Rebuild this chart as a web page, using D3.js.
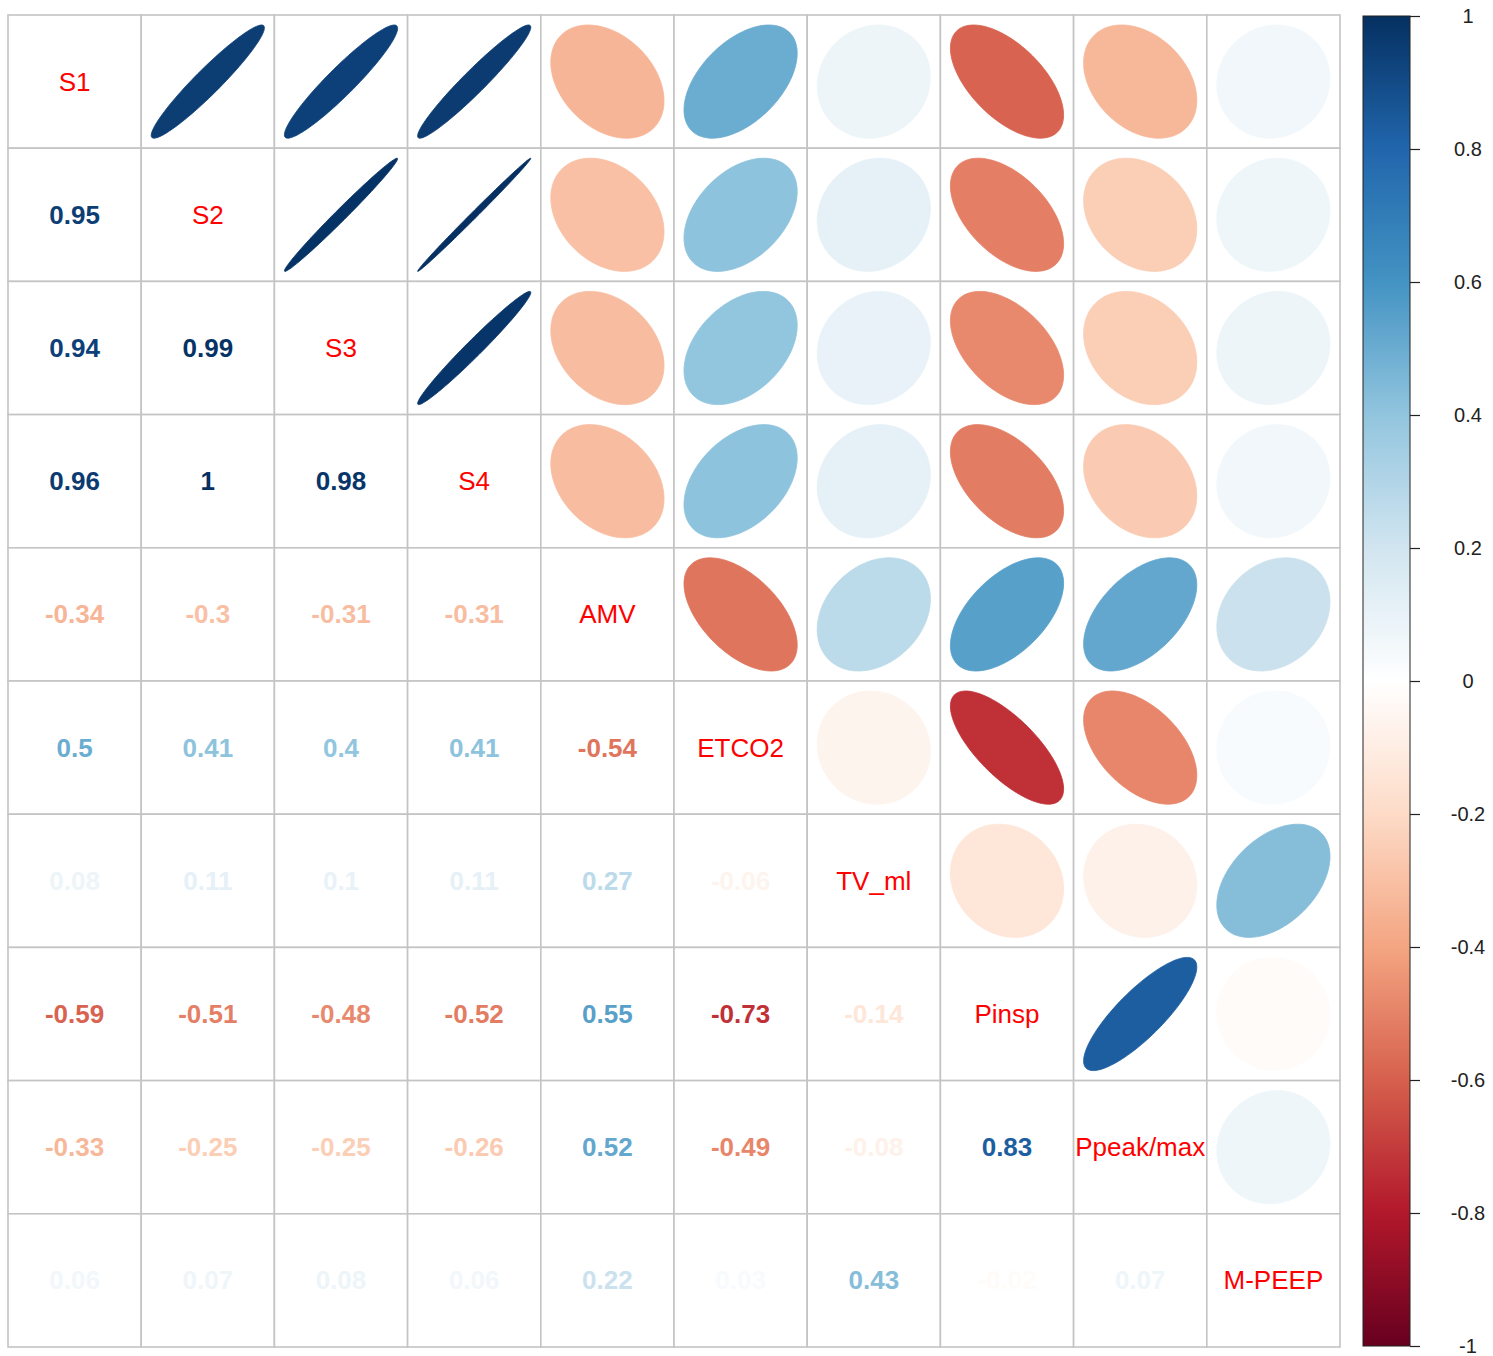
<!DOCTYPE html>
<html>
<head>
<meta charset="utf-8">
<script src="https://cdn.jsdelivr.net/npm/d3@7"></script>
<style>
  html, body { margin: 0; padding: 0; background: #fff; }
  svg { display: block; }
</style>
</head>
<body>
<div id="chart"></div>
<script>
// corrplot-style mixed matrix: numbers below the diagonal, ellipses above

const labels = ['S1', 'S2', 'S3', 'S4', 'AMV', 'ETCO2', 'TV_ml', 'Pinsp', 'Ppeak/max', 'M-PEEP'];

// lower triangle, one row per variable (values left of the diagonal)
const rowS1    = [];
const rowS2    = [0.95];
const rowS3    = [0.94, 0.99];
const rowS4    = [0.96, 1, 0.98];
const rowAMV   = [-0.34, -0.3, -0.31, -0.31];
const rowETCO2 = [0.5, 0.41, 0.4, 0.41, -0.54];
const rowTV    = [0.08, 0.11, 0.1, 0.11, 0.27, -0.06];
const rowPinsp = [-0.59, -0.51, -0.48, -0.52, 0.55, -0.73, -0.14];
const rowPpeak = [-0.33, -0.25, -0.25, -0.26, 0.52, -0.49, -0.08, 0.83];
const rowMPEEP = [0.06, 0.07, 0.08, 0.06, 0.22, 0.03, 0.43, -0.02, 0.07];
const lowerRows = [rowS1, rowS2, rowS3, rowS4, rowAMV, rowETCO2, rowTV, rowPinsp, rowPpeak, rowMPEEP];

const legendTicks = [-1, -0.8, -0.6, -0.4, -0.2, 0, 0.2, 0.4, 0.6, 0.8, 1];
const palette = ['#67001F', '#B2182B', '#D6604D', '#F4A582', '#FDDBC7', '#FFFFFF',
                 '#D1E5F0', '#92C5DE', '#4393C3', '#2166AC', '#053061'];

const W = 1493, H = 1356;
const gridLeft = 8, gridRight = 1340, gridTop = 15, gridBottom = 1347;

const svg = d3.select('#chart').append('svg')
  .attr('width', W).attr('height', H);

const x = d3.scaleBand().domain(labels).range([gridLeft, gridRight]);
const y = d3.scaleBand().domain(labels).range([gridTop, gridBottom]);
const color = d3.scaleLinear().domain(legendTicks).range(palette).clamp(true);
const bw = x.bandwidth();

// build full symmetric cell list
const cells = [];
labels.forEach((rl, i) => {
  labels.forEach((cl, j) => {
    let v = null;
    if (j < i) v = lowerRows[i][j];
    else if (j > i) v = lowerRows[j][i];
    cells.push({ row: rl, col: cl, i, j, v });
  });
});

// grid
svg.append('g').selectAll('rect')
  .data(cells)
  .join('rect')
  .attr('x', d => x(d.col))
  .attr('y', d => y(d.row))
  .attr('width', bw)
  .attr('height', bw)
  .attr('fill', '#fff')
  .attr('stroke', '#c4c4c4')
  .attr('stroke-width', 1.6);

// ellipse path as corrplot draws it (0.85 of cell, y flipped for svg)
// |r| kept just under 1 so a rounded "1" still shows as a thin sliver
function ellipsePath(r) {
  const rr = Math.max(-0.997, Math.min(0.997, r));
  const a = Math.acos(rr) / 2;
  const pts = d3.range(0, 100).map(n => {
    const k = (n / 99) * 2 * Math.PI;
    return [0.85 * Math.cos(k + a) / 2 * bw, -0.85 * Math.cos(k - a) / 2 * bw];
  });
  return d3.line()(pts) + 'Z';
}

const upper = cells.filter(d => d.j > d.i);
svg.append('g').selectAll('path')
  .data(upper)
  .join('path')
  .attr('transform', d => `translate(${x(d.col) + bw / 2},${y(d.row) + bw / 2})`)
  .attr('d', d => ellipsePath(d.v))
  .attr('fill', d => color(d.v))
  .attr('stroke', d => color(d.v))
  .attr('stroke-width', 0.8);

// numbers
const lower = cells.filter(d => d.j < d.i);
svg.append('g').selectAll('text')
  .data(lower)
  .join('text')
  .attr('x', d => x(d.col) + bw / 2)
  .attr('y', d => y(d.row) + bw / 2)
  .attr('text-anchor', 'middle')
  .attr('dominant-baseline', 'central')
  .attr('font-family', 'Liberation Sans, Arial, sans-serif')
  .attr('font-weight', 'bold')
  .attr('font-size', 26)
  .attr('fill', d => color(d.v))
  .text(d => String(d.v));

// diagonal labels
svg.append('g').selectAll('text')
  .data(labels)
  .join('text')
  .attr('x', d => x(d) + bw / 2)
  .attr('y', d => y(d) + bw / 2)
  .attr('text-anchor', 'middle')
  .attr('dominant-baseline', 'central')
  .attr('font-family', 'Liberation Sans, Arial, sans-serif')
  .attr('font-size', 26)
  .attr('fill', '#ff0000')
  .text(d => d);

// colour legend
const barX = 1363, barW = 47;
const ly = d3.scaleLinear().domain([-1, 1]).range([gridBottom - 1, gridTop + 1]);

const defs = svg.append('defs');
const grad = defs.append('linearGradient')
  .attr('id', 'cbar')
  .attr('x1', 0).attr('y1', 1).attr('x2', 0).attr('y2', 0);
grad.selectAll('stop')
  .data(legendTicks)
  .join('stop')
  .attr('offset', d => (d + 1) / 2)
  .attr('stop-color', d => color(d));

svg.append('rect')
  .attr('x', barX)
  .attr('y', ly(1))
  .attr('width', barW)
  .attr('height', ly(-1) - ly(1))
  .attr('fill', 'url(#cbar)')
  .attr('stroke', '#222')
  .attr('stroke-width', 1);

const axis = svg.append('g')
  .attr('transform', `translate(${barX + barW},0)`)
  .call(d3.axisRight(ly).tickValues(legendTicks).tickSize(10).tickFormat(d => String(+d.toFixed(1))));
axis.select('.domain').remove();
axis.selectAll('line').attr('stroke', '#222').attr('stroke-width', 1.2);
axis.selectAll('text')
  .attr('x', 58)
  .attr('text-anchor', 'middle')
  .attr('font-family', 'Liberation Sans, Arial, sans-serif')
  .attr('font-size', 20)
  .attr('fill', '#222');
</script>
</body>
</html>
